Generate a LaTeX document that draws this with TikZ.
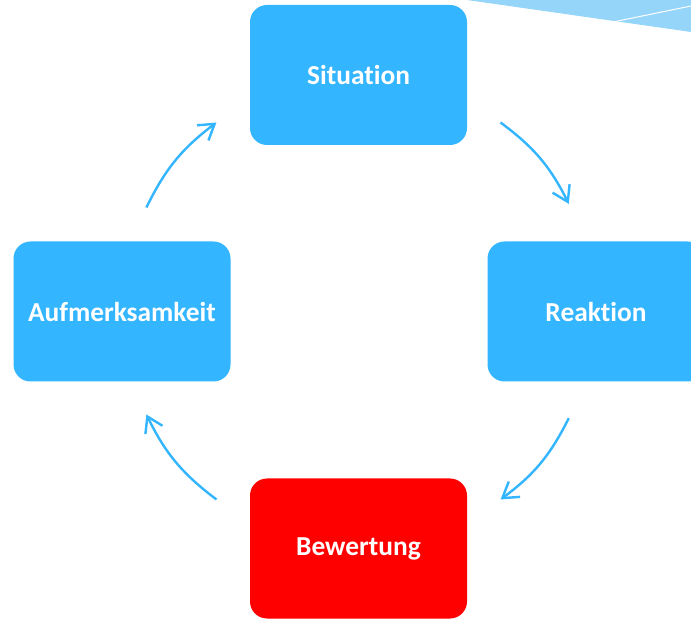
\documentclass[tikz,border=0pt]{standalone}
\usepackage{fontspec}
\setsansfont{Carlito}[Ligatures=NoCommon]
\usepackage{tikz}
\definecolor{zyklBlue}{HTML}{33B5FF}
\definecolor{zyklRed}{HTML}{FF0000}
\definecolor{zyklSky}{HTML}{95D5FA}
\usetikzlibrary{arrows.meta}

\begin{document}
\begin{tikzpicture}[x=1pt,y=1pt, every node/.style={font=\sffamily\bfseries\fontsize{27.4}{32}\selectfont},
  stufe/.style={rounded corners=17pt, minimum width=217pt, minimum height=140pt, inner sep=0pt, text=white},
  pfeil/.style={color=zyklBlue, line width=2.4pt, -{Straight Barb[length=15pt,width=19pt]}}]
  \useasboundingbox (0,0) rectangle (691,619);
  \fill[zyklSky] (467,619) -- (691,619) -- (691,587) -- cycle;
  \draw[white, line width=1pt] (613,597) -- (691,613);
  \node[stufe, fill=zyklBlue] (situation) at (358.5,544) {Situation};
  \node[stufe, fill=zyklBlue] (reaktion) at (596,307.5) {Reaktion};
  \node[stufe, fill=zyklRed] (bewertung) at (358.5,70.5) {Bewertung};
  \node[stufe, fill=zyklBlue] (aufmerksamkeit) at (122,307.5) {Aufmerksamkeit};
  \coordinate (mitte) at (358.5,308);
  \foreach \von/\bis/\n in {154/127/1, 53/27/2, -27/-53/3, -127/-154/4} {
    \coordinate (start\n) at ([shift={(\von:236)}]mitte);
    \coordinate (ende\n) at ([shift={(\bis:236)}]mitte);
    \draw[pfeil] (start\n) to[bend left=13.5] (ende\n);
  }
\end{tikzpicture}
\end{document}
